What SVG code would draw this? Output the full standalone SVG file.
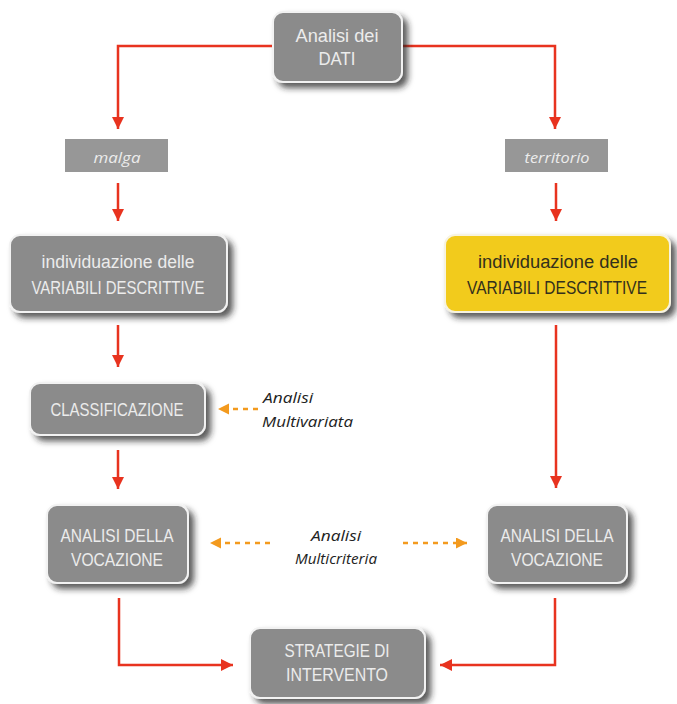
<svg xmlns="http://www.w3.org/2000/svg" width="677" height="704" viewBox="0 0 677 704">
<defs>
<filter id="sh" x="-20%" y="-20%" width="150%" height="160%">
<feDropShadow dx="5" dy="5" stdDeviation="3" flood-color="#222" flood-opacity="0.75"/>
</filter>
<marker id="ar" markerUnits="userSpaceOnUse" markerWidth="14" markerHeight="14" refX="12" refY="6" orient="auto">
<path d="M0,0 L12,6 L0,12 z" fill="#e8331f"/>
</marker>
<marker id="ao" markerUnits="userSpaceOnUse" markerWidth="14" markerHeight="14" refX="11" refY="5.5" orient="auto">
<path d="M0,0 L11,5.5 L0,11 z" fill="#f39a1e"/>
</marker>
</defs>
<style>
.box{fill:#8b8b8b;stroke:#f2f2f2;stroke-width:2;filter:url(#sh)}
.ybox{fill:#f2cb1e;stroke:#f7f3e0;stroke-width:2;filter:url(#sh)}
.lbl{fill:#979797}
.t{font-family:"Liberation Sans Narrow","Liberation Sans",Arial,sans-serif;font-size:18px;fill:#ececec;text-anchor:middle}
.ty{fill:#33301c}
.ti{font-family:"Open Sans","Liberation Sans",Arial,sans-serif;font-style:italic;font-size:15px;fill:#ececec;text-anchor:middle}
.tk{font-family:"Open Sans","Liberation Sans",Arial,sans-serif;font-style:italic;font-size:15px;fill:#222}
.c{fill:none;stroke:#e8331f;stroke-width:2.5;marker-end:url(#ar)}
.d{fill:none;stroke:#f39a1e;stroke-width:2.5;stroke-dasharray:5,5;marker-end:url(#ao)}
</style>
<g id="connectors">
<path class="c" d="M273,46 H118 V129"/>
<path class="c" d="M402,46 H555 V129"/>
<path class="c" d="M118,183 V221"/>
<path class="c" d="M556,183 V221"/>
<path class="c" d="M118,325 V367"/>
<path class="c" d="M118,450 V489"/>
<path class="c" d="M556,325 V488"/>
<path class="c" d="M119,598 V665 H233"/>
<path class="c" d="M555,598 V665 H440"/>
<path class="d" d="M258,409 H218"/>
<path class="d" d="M270,543 H210"/>
<path class="d" d="M403,543 H467"/>
</g>
<g id="n-dati">
<rect class="box" x="273" y="12" width="129" height="70" rx="10"/>
<text class="t" x="337" y="42" textLength="83" lengthAdjust="spacingAndGlyphs">Analisi dei</text>
<text class="t" x="337" y="65" textLength="37" lengthAdjust="spacingAndGlyphs">DATI</text>
</g>
<g id="n-malga">
<rect class="lbl" x="65" y="139" width="103" height="33"/>
<text class="ti" x="117" y="163" textLength="47" lengthAdjust="spacingAndGlyphs">malga</text>
</g>
<g id="n-territorio">
<rect class="lbl" x="505" y="139" width="103" height="33"/>
<text class="ti" x="557" y="163" textLength="65" lengthAdjust="spacingAndGlyphs">territorio</text>
</g>
<g id="n-var-l">
<rect class="box" x="10" y="235" width="217" height="77" rx="10"/>
<text class="t" x="118" y="268" textLength="153" lengthAdjust="spacingAndGlyphs">individuazione delle</text>
<text class="t" x="118" y="294" textLength="173" lengthAdjust="spacingAndGlyphs">VARIABILI DESCRITTIVE</text>
</g>
<g id="n-var-r">
<rect class="ybox" x="445" y="235" width="225" height="77" rx="10"/>
<text class="t ty" x="558" y="268" textLength="160" lengthAdjust="spacingAndGlyphs">individuazione delle</text>
<text class="t ty" x="557" y="294" textLength="180" lengthAdjust="spacingAndGlyphs">VARIABILI DESCRITTIVE</text>
</g>
<g id="n-class">
<rect class="box" x="30" y="383" width="175" height="52" rx="10"/>
<text class="t" x="117" y="416" textLength="133" lengthAdjust="spacingAndGlyphs">CLASSIFICAZIONE</text>
</g>
<g id="n-multivariata">
<text class="tk" x="263" y="403" textLength="50" lengthAdjust="spacingAndGlyphs">Analisi</text>
<text class="tk" x="262" y="427" textLength="91" lengthAdjust="spacingAndGlyphs">Multivariata</text>
</g>
<g id="n-ana-l">
<rect class="box" x="47" y="505" width="141" height="78" rx="10"/>
<text class="t" x="117" y="542" textLength="113" lengthAdjust="spacingAndGlyphs">ANALISI DELLA</text>
<text class="t" x="117" y="566" textLength="92" lengthAdjust="spacingAndGlyphs">VOCAZIONE</text>
</g>
<g id="n-multicriteria">
<text class="tk" x="311" y="541" textLength="50" lengthAdjust="spacingAndGlyphs">Analisi</text>
<text class="tk" x="295" y="564" textLength="82" lengthAdjust="spacingAndGlyphs">Multicriteria</text>
</g>
<g id="n-ana-r">
<rect class="box" x="487" y="505" width="140" height="78" rx="10"/>
<text class="t" x="557" y="542" textLength="113" lengthAdjust="spacingAndGlyphs">ANALISI DELLA</text>
<text class="t" x="557" y="566" textLength="92" lengthAdjust="spacingAndGlyphs">VOCAZIONE</text>
</g>
<g id="n-strategie">
<rect class="box" x="250" y="628" width="175" height="70" rx="10"/>
<text class="t" x="337" y="657" textLength="105" lengthAdjust="spacingAndGlyphs">STRATEGIE DI</text>
<text class="t" x="337" y="681" textLength="102" lengthAdjust="spacingAndGlyphs">INTERVENTO</text>
</g>
</svg>
